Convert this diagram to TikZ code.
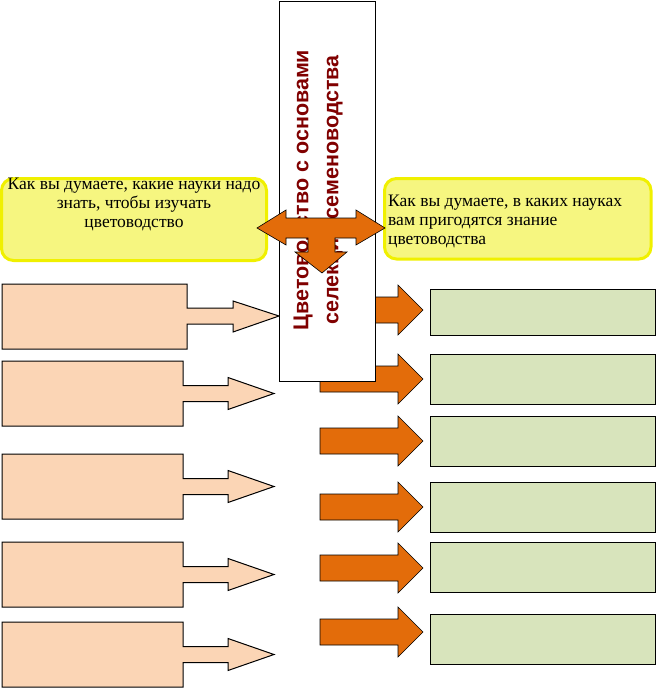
\documentclass[tikz,border=0pt]{standalone}
\usepackage{fontspec}
\setmainfont{Liberation Serif}
\newfontfamily\arialfont{Liberation Sans}
\definecolor{peach}{RGB}{251,213,181}
\definecolor{orng}{RGB}{227,108,10}
\definecolor{grn}{RGB}{216,228,188}
\definecolor{ylwfill}{RGB}{246,246,128}
\definecolor{ylwline}{RGB}{240,240,0}
\definecolor{dred}{RGB}{128,0,0}
\begin{document}
\begin{tikzpicture}[x=1pt,y=-1pt,
  peacharrow/.style={fill=peach,draw=black,line width=1pt,line join=miter},
  orangearrow/.style={fill=orng,draw=black,line width=0.6pt,line join=miter},
  greenbox/.style={fill=grn,draw=black,line width=1pt},
  yellowbox/.style={fill=ylwfill,draw=ylwline,line width=3pt,rounded corners=12pt},
  qtext/.style={font=\fontsize{17.5}{19}\selectfont,inner sep=0pt},
  titletext/.style={font=\arialfont\bfseries\fontsize{21.5}{30}\selectfont,text=dred,inner sep=0pt,align=center,rotate=90}]
\useasboundingbox (0,0) rectangle (656,688);
% peach arrows (left)
\draw[peacharrow] (2,284) -- (187,284) -- (187,308) -- (233,308) -- (233,301) -- (279,316) -- (233,332) -- (233,324) -- (187,324) -- (187,349) -- (2,349) -- cycle;
\foreach \c in {393.5,486.5,574.5,654.5}{
  \draw[peacharrow] (2,\c-32.5) -- (183,\c-32.5) -- (183,\c-8) -- (228,\c-8) -- (228,\c-16) -- (274,\c) -- (228,\c+16) -- (228,\c+8) -- (183,\c+8) -- (183,\c+32.5) -- (2,\c+32.5) -- cycle;
}
% orange arrows (right)
\foreach \c in {310,379,441,507,568,632}{
  \draw[orangearrow] (320,\c-13) -- (398,\c-13) -- (398,\c-25) -- (423,\c) -- (398,\c+25) -- (398,\c+13) -- (320,\c+13) -- cycle;
}
% green boxes
\draw[greenbox] (430,289) rectangle (655.5,335);
\draw[greenbox] (430,354) rectangle (655.5,404);
\draw[greenbox] (430,416) rectangle (655.5,466);
\draw[greenbox] (430,482) rectangle (655.5,532);
\draw[greenbox] (430,542) rectangle (655.5,592);
\draw[greenbox] (430,614) rectangle (655.5,664);
% yellow boxes
\draw[yellowbox] (1.5,178.5) rectangle (266.5,260.5);
\draw[yellowbox] (384.5,178.5) rectangle (651,259);
\node[qtext,anchor=north,align=center] (lq) at (134,178) {Как вы думаете, какие науки надо\\знать, чтобы изучать\\цветоводство};
\node[qtext,anchor=west,align=left] (rq) at (388,221) {Как вы думаете, в каких науках\\вам пригодятся знание\\цветоводства};
% central box
\draw[fill=white,draw=black,line width=1pt] (279,1) rectangle (375,381);
\node[titletext] (title) at (318,190) {Цветоводство с основами\\селекции семеноводства};
% cross arrow
\draw[orangearrow] (257,228) -- (286,210) -- (286,218) -- (356,218) -- (356,210) -- (385,228) -- (356,245) -- (356,238) -- (335,238) -- (335,252) -- (347,252) -- (322,273) -- (295,252) -- (308,252) -- (308,238) -- (286,238) -- (286,245) -- cycle;
\end{tikzpicture}
\end{document}
